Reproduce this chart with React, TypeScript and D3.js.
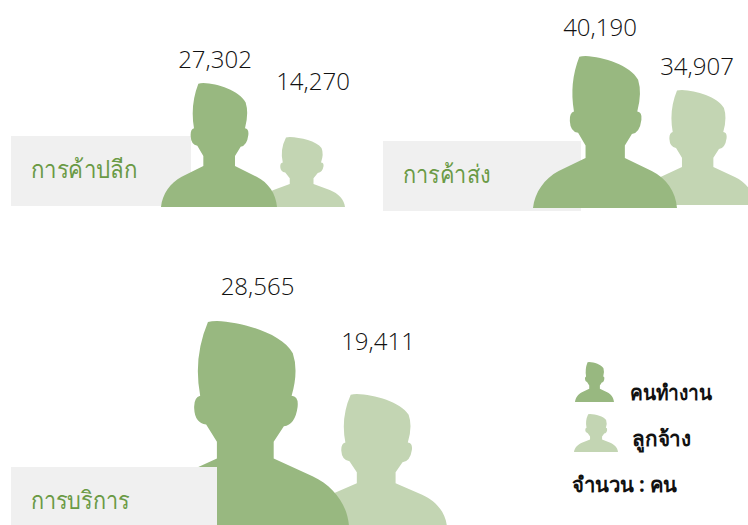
import * as d3 from 'd3';
import React from 'react';

const width = 748;
const height = 525;

const categories = ['การค้าปลีก', 'การค้าส่ง', 'การบริการ'];
const workers = [27302, 40190, 28565];
const employees = [14270, 34907, 19411];
const legendLabels = ['คนทำงาน', 'ลูกจ้าง'];
const unitLabel = 'จำนวน : คน';

const DARK = '#98b880';
const LIGHT = '#c3d5b3';
const BOX = '#f0f0f0';
const GREEN = '#6a9a45';
const FONT = '"Open Sans", "Noto Sans", sans-serif';

// where each panel sits
const panels = [
  {
    box: [11, 136, 180, 70], boxOnTop: false,
    text: [31, 178], textWidth: 106,
    dark: [161, 83, 116, 124], light: [258, 137, 87, 70],
    darkLabel: [215, 68], lightLabel: [313, 90],
  },
  {
    box: [383, 141, 198, 70], boxOnTop: false,
    text: [403, 183], textWidth: 87,
    dark: [533, 56, 144, 152], light: [640, 90, 115, 115],
    darkLabel: [600, 36], lightLabel: [697, 75],
  },
  {
    box: [11, 467, 206, 70], boxOnTop: true,
    text: [31, 509], textWidth: 98,
    dark: [141, 321, 208, 205], light: [305, 394, 142, 133],
    darkLabel: [257.5, 295], lightLabel: [378, 350],
  },
];

// silhouette outline in a 348x370 box
function personPath([px, py, pw, ph]: number[]) {
  const x = d3.scaleLinear().domain([0, 348]).range([px, px + pw]);
  const y = d3.scaleLinear().domain([0, 370]).range([py, py + ph]);
  const p = d3.path();
  const L = (a: number, b: number) => p.lineTo(x(a), y(b));
  const Q = (a: number, b: number, c: number, d: number) =>
    p.quadraticCurveTo(x(a), y(b), x(c), y(d));
  const C = (a: number, b: number, c: number, d: number, e: number, f: number) =>
    p.bezierCurveTo(x(a), y(b), x(c), y(d), x(e), y(f));

  p.moveTo(x(112), y(2));
  Q(118, 0, 127, 0);
  C(170, 2, 235, 22, 254, 58);
  Q(264, 90, 252, 135);
  Q(264, 136, 262, 155);
  Q(258, 187, 239, 190);
  L(222, 218);
  L(222, 248);
  L(287, 280);
  C(322, 298, 345, 330, 348, 370);
  L(0, 370);
  C(4, 332, 28, 298, 62, 280);
  L(127, 248);
  L(127, 218);
  L(109, 187);
  Q(90, 184, 89, 158);
  Q(88, 138, 99, 135);
  Q(87, 66, 112, 2);
  p.closePath();
  return p.toString();
}

const number = d3.format(',');

export default function App() {
  return (
    <svg
      width={width}
      height={height}
      viewBox={`0 0 ${width} ${height}`}
      style={{ position: 'absolute', left: 0, top: 0, background: '#fff' }}
      fontFamily={FONT}
    >
      {panels.map((panel, i) => {
        const box = (
          <g>
            <rect x={panel.box[0]} y={panel.box[1]} width={panel.box[2]} height={panel.box[3]} fill={BOX} />
            <text
              x={panel.text[0]}
              y={panel.text[1]}
              fontSize={25}
              fontWeight={300}
              fill={GREEN}
              textLength={panel.textWidth}
              lengthAdjust="spacingAndGlyphs"
            >
              {categories[i]}
            </text>
          </g>
        );
        return (
          <g key={categories[i]}>
            {!panel.boxOnTop && box}
            <path d={personPath(panel.light)} fill={LIGHT} />
            <path d={personPath(panel.dark)} fill={DARK} />
            {panel.boxOnTop && box}
            <text x={panel.darkLabel[0]} y={panel.darkLabel[1]} textAnchor="middle" fontSize={24} fontWeight={300} fill="#111">
              {number(workers[i])}
            </text>
            <text x={panel.lightLabel[0]} y={panel.lightLabel[1]} textAnchor="middle" fontSize={24} fontWeight={300} fill="#111">
              {number(employees[i])}
            </text>
          </g>
        );
      })}

      <path d={personPath([575, 362, 39, 40])} fill={DARK} />
      <path d={personPath([574, 414, 44, 38])} fill={LIGHT} />
      <text x={630} y={400} fontSize={21} fontWeight="bold" fill="#111" textLength={82} lengthAdjust="spacingAndGlyphs">{legendLabels[0]}</text>
      <text x={632} y={446} fontSize={21} fontWeight="bold" fill="#111" textLength={59} lengthAdjust="spacingAndGlyphs">{legendLabels[1]}</text>
      <text x={572} y={492} fontSize={21} fontWeight="bold" fill="#111" textLength={105} lengthAdjust="spacingAndGlyphs">{unitLabel}</text>
    </svg>
  );
}
